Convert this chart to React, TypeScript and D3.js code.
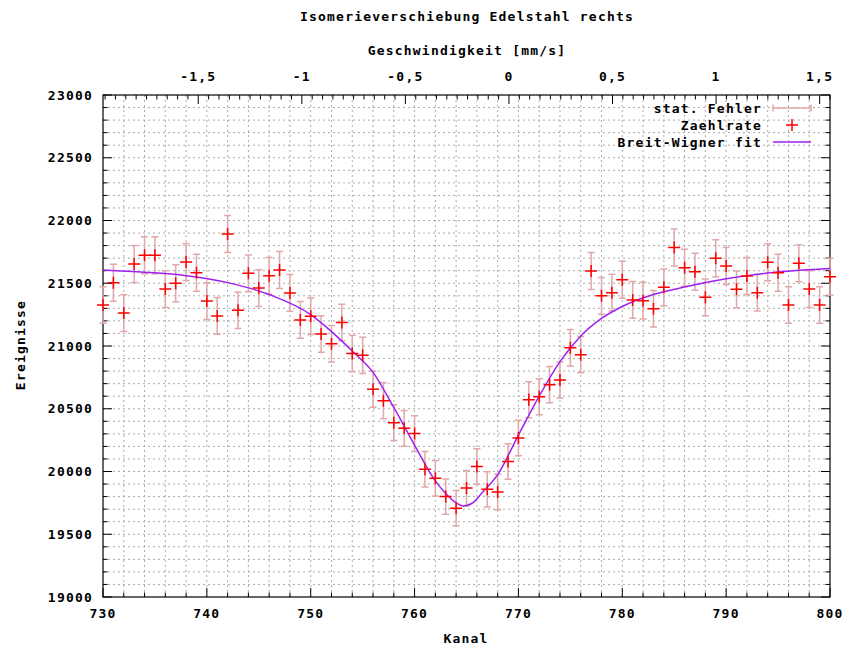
import React, { useEffect, useRef } from 'react';
import * as d3 from 'd3';

// counts per channel, starting at channel 730
const firstChannel = 730;
const counts = [
	21327, 21504, 21262, 21653, 21723, 21723, 21454, 21500, 21669, 21584,
	21358, 21240, 21892, 21285, 21579, 21462, 21559, 21606, 21423, 21208,
	21237, 21095, 21018, 21188, 20940, 20926, 20655, 20563, 20389, 20344,
	20302, 20018, 19946, 19800, 19708, 19868, 20040, 19858, 19837, 20080,
	20267, 20572, 20596, 20692, 20729, 20986, 20931, 21598, 21400, 21425,
	21528, 21367, 21361, 21297, 21468, 21785, 21624, 21592, 21388, 21699,
	21637, 21452, 21558, 21425, 21667, 21584, 21327, 21659, 21454, 21327,
	21552,
];

// Breit-Wigner fit
const fitChannels = [730, 734, 738, 742, 746, 750, 752, 754, 756, 758, 760, 762, 763, 764, 764.7, 765.5, 766.5, 768, 770, 772, 774, 776, 778, 780, 783, 786, 790, 795, 800];
const fitValues = [21606, 21588, 21560, 21505, 21410, 21250, 21115, 20960, 20790, 20510, 20210, 19925, 19825, 19750, 19725, 19745, 19830, 19975, 20290, 20600, 20875, 21080, 21220, 21315, 21410, 21470, 21535, 21590, 21618];

const xTicks = [730, 740, 750, 760, 770, 780, 790, 800];
const yTicks = [19000, 19500, 20000, 20500, 21000, 21500, 22000, 22500, 23000];
const velocityTicks = [-1.5, -1, -0.5, 0, 0.5, 1, 1.5];
const velocityLabels = ['-1,5', '-1', '-0,5', '0', '0,5', '1', '1,5'];

const title = 'Isomerieverschiebung Edelstahl rechts';
const x2Label = 'Geschwindigkeit [mm/s]';
const xLabel = 'Kanal';
const yLabel = 'Ereignisse';
const legendLabels = ['stat. Fehler', 'Zaehlrate', 'Breit-Wigner fit'];

const FONT = "'DejaVu Sans Mono', monospace";

export default function App() {
	const node = useRef<SVGSVGElement>(null);

	useEffect(() => {
		const width = 853;
		const height = 651;
		const margin = { top: 95, right: 23, bottom: 54, left: 103 };
		const svg = d3.select(node.current);
		svg.selectAll('*').remove();

		const xScale = d3.scaleLinear().domain([730, 800]).range([margin.left, width - margin.right]);
		const x2Scale = d3.scaleLinear().domain([-1.96, 1.55]).range([margin.left, width - margin.right]);
		const yScale = d3.scaleLinear().domain([19000, 23000]).range([height - margin.bottom, margin.top]);
		const [x0, x1] = xScale.range();
		const [y0, y1] = yScale.range();

		svg.append('rect').attr('width', width).attr('height', height).attr('fill', '#fff');

		const text = (x: number, y: number, s: string, anchor = 'middle') =>
			svg
				.append('text')
				.attr('x', x)
				.attr('y', y)
				.attr('text-anchor', anchor)
				.attr('font-family', FONT)
				.attr('font-weight', 'bold')
				.attr('font-size', 13)
				.attr('letter-spacing', '1.2px')
				.attr('fill', '#000')
				.text(s);

		// grid on minor tics
		const grid = svg.append('g').attr('stroke', '#aaa').attr('stroke-width', 1).attr('stroke-dasharray', '2,3');
		d3.range(732, 800, 2).forEach(c => {
			grid.append('line').attr('x1', xScale(c)).attr('x2', xScale(c)).attr('y1', y0).attr('y2', y1);
		});
		d3.range(19100, 23000, 100).forEach(v => {
			grid.append('line').attr('x1', x0).attr('x2', x1).attr('y1', yScale(v)).attr('y2', yScale(v));
		});

		// tics
		const tics = svg.append('g').attr('stroke', '#000').attr('stroke-width', 1);
		d3.range(730, 801, 2).forEach(c => {
			const len = c % 10 === 0 ? 9 : 4.5;
			tics.append('line').attr('x1', xScale(c)).attr('x2', xScale(c)).attr('y1', y0).attr('y2', y0 - len);
		});
		d3.range(-1.95, 1.551, 0.05).forEach(v => {
			const major = Math.abs(v * 2 - Math.round(v * 2)) < 1e-6;
			const len = major ? 9 : 4.5;
			tics.append('line').attr('x1', x2Scale(v)).attr('x2', x2Scale(v)).attr('y1', y1).attr('y2', y1 + len);
		});
		d3.range(19000, 23001, 100).forEach(v => {
			const len = v % 500 === 0 ? 9 : 4.5;
			tics.append('line').attr('x1', x0).attr('x2', x0 + len).attr('y1', yScale(v)).attr('y2', yScale(v));
			tics.append('line').attr('x1', x1).attr('x2', x1 - len).attr('y1', yScale(v)).attr('y2', yScale(v));
		});

		svg
			.append('rect')
			.attr('x', x0)
			.attr('y', y1)
			.attr('width', x1 - x0)
			.attr('height', y0 - y1)
			.attr('fill', 'none')
			.attr('stroke', '#000')
			.attr('stroke-width', 1.2);

		// tick labels
		xTicks.forEach(t => text(xScale(t), 618, String(t)));
		yTicks.forEach(t => text(93, yScale(t) + 4.5, String(t), 'end'));
		velocityTicks.forEach((t, i) => text(x2Scale(t), 81, velocityLabels[i]));

		// titles
		text(467, 21, title);
		text(467, 55, x2Label);
		text(466, 643, xLabel);
		text(0, 0, yLabel).attr('transform', 'translate(25,345) rotate(-90)');

		// error bars
		const points = counts.map((n, i) => ({ ch: firstChannel + i, n, err: Math.sqrt(n) }));
		const errG = svg.append('g').attr('stroke', '#e0a8a8').attr('stroke-width', 1.5).attr('fill', 'none');
		points.forEach(d => {
			const x = xScale(d.ch);
			const ya = yScale(d.n + d.err);
			const yb = yScale(d.n - d.err);
			errG.append('path').attr('d', `M${x},${ya}V${yb}M${x - 3.5},${ya}H${x + 3.5}M${x - 3.5},${yb}H${x + 3.5}`);
		});

		// fit curve
		const fitLine = d3
			.line<number>()
			.x((_, i) => xScale(fitChannels[i]))
			.y(d => yScale(d))
			.curve(d3.curveMonotoneX);
		svg
			.append('path')
			.datum(fitValues)
			.attr('d', fitLine)
			.attr('fill', 'none')
			.attr('stroke', '#a020f0')
			.attr('stroke-width', 1.5);

		// points as crosses
		const ptG = svg.append('g').attr('stroke', '#ff0000').attr('stroke-width', 1.5);
		points.forEach(d => {
			const x = xScale(d.ch);
			const y = yScale(d.n);
			ptG.append('path').attr('d', `M${x - 6},${y}H${x + 6}M${x},${y - 6}V${y + 6}`);
		});

		// legend
		const rows = [108, 125, 142];
		legendLabels.forEach((s, i) => text(762, rows[i] + 4.5, s, 'end'));
		svg
			.append('path')
			.attr('d', `M773,${rows[0]}H811M773,${rows[0] - 3.5}V${rows[0] + 3.5}M811,${rows[0] - 3.5}V${rows[0] + 3.5}`)
			.attr('stroke', '#e0a8a8')
			.attr('stroke-width', 1.5)
			.attr('fill', 'none');
		svg
			.append('path')
			.attr('d', `M786,${rows[1]}H798M792,${rows[1] - 6}V${rows[1] + 6}`)
			.attr('stroke', '#ff0000')
			.attr('stroke-width', 1.5);
		svg
			.append('path')
			.attr('d', `M773,${rows[2]}H811`)
			.attr('stroke', '#a020f0')
			.attr('stroke-width', 1.5);
	}, []);

	return (
		<svg
			ref={node}
			width={853}
			height={651}
			style={{ position: 'absolute', left: 0, top: 0, display: 'block' }}
		/>
	);
}
